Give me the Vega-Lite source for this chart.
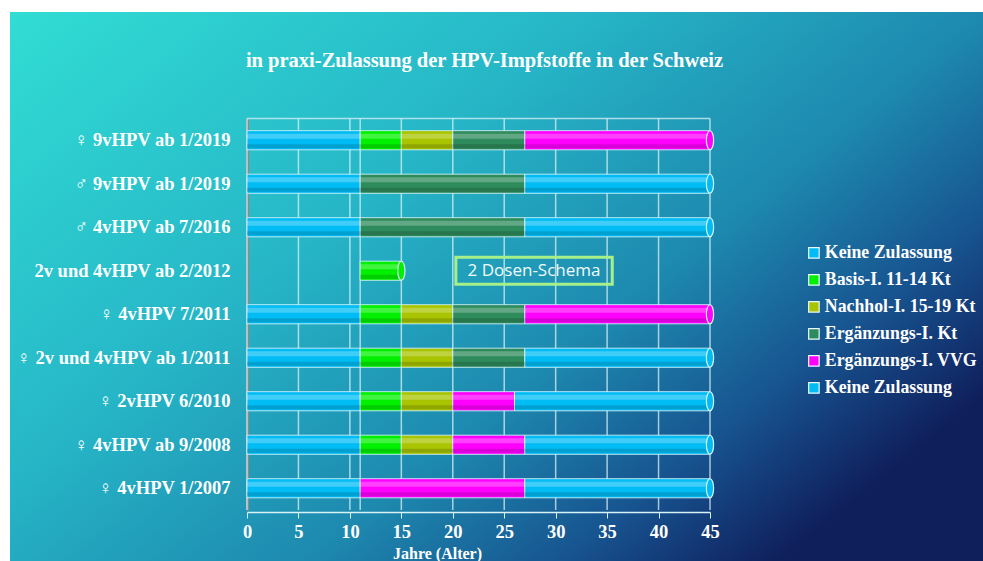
{
  "$schema": "https://vega.github.io/schema/vega-lite/v6.json",
  "width": 973,
  "height": 549,
  "autosize": {"type": "none"},
  "padding": {"left": 10, "top": 12, "right": 0, "bottom": 0},
  "background": "white",
  "view": {
    "stroke": null,
    "fill": {
      "gradient": "linear",
      "x1": 0, "y1": 0, "x2": 1, "y2": 0.7,
      "stops": [
        {"offset": 0, "color": "#31ddd4"},
        {"offset": 0.4, "color": "#26b6c7"},
        {"offset": 0.68, "color": "#1d88ae"},
        {"offset": 0.85, "color": "#175490"},
        {"offset": 1, "color": "#0f1f5c"}
      ]
    }
  },
  "title": {
    "text": "in praxi-Zulassung der HPV-Impfstoffe in der Schweiz",
    "font": "Liberation Serif",
    "fontSize": 20.5,
    "fontWeight": "bold",
    "color": "white",
    "anchor": "middle",
    "frame": "group",
    "baseline": "alphabetic",
    "offset": -75,
    "dx": -12
  },
  "data": {
    "values": [
      {"label": "♀ 9vHPV  ab 1/2019", "series": "Keine Zulassung (unten)", "start": 0, "end": 11},
      {"label": "♀ 9vHPV  ab 1/2019", "series": "Basis-I. 11-14 Kt", "start": 11, "end": 15},
      {"label": "♀ 9vHPV  ab 1/2019", "series": "Nachhol-I. 15-19 Kt", "start": 15, "end": 20},
      {"label": "♀ 9vHPV  ab 1/2019", "series": "Ergänzungs-I. Kt", "start": 20, "end": 27},
      {"label": "♀ 9vHPV  ab 1/2019", "series": "Ergänzungs-I. VVG", "start": 27, "end": 45},
      {"label": "♂ 9vHPV ab 1/2019", "series": "Keine Zulassung (unten)", "start": 0, "end": 11},
      {"label": "♂ 9vHPV ab 1/2019", "series": "Ergänzungs-I. Kt", "start": 11, "end": 27},
      {"label": "♂ 9vHPV ab 1/2019", "series": "Keine Zulassung (oben)", "start": 27, "end": 45},
      {"label": "♂ 4vHPV ab 7/2016", "series": "Keine Zulassung (unten)", "start": 0, "end": 11},
      {"label": "♂ 4vHPV ab 7/2016", "series": "Ergänzungs-I. Kt", "start": 11, "end": 27},
      {"label": "♂ 4vHPV ab 7/2016", "series": "Keine Zulassung (oben)", "start": 27, "end": 45},
      {"label": "2v und 4vHPV ab 2/2012", "series": "Basis-I. 11-14 Kt", "start": 11, "end": 15},
      {"label": "♀ 4vHPV 7/2011", "series": "Keine Zulassung (unten)", "start": 0, "end": 11},
      {"label": "♀ 4vHPV 7/2011", "series": "Basis-I. 11-14 Kt", "start": 11, "end": 15},
      {"label": "♀ 4vHPV 7/2011", "series": "Nachhol-I. 15-19 Kt", "start": 15, "end": 20},
      {"label": "♀ 4vHPV 7/2011", "series": "Ergänzungs-I. Kt", "start": 20, "end": 27},
      {"label": "♀ 4vHPV 7/2011", "series": "Ergänzungs-I. VVG", "start": 27, "end": 45},
      {"label": "♀ 2v und 4vHPV ab 1/2011", "series": "Keine Zulassung (unten)", "start": 0, "end": 11},
      {"label": "♀ 2v und 4vHPV ab 1/2011", "series": "Basis-I. 11-14 Kt", "start": 11, "end": 15},
      {"label": "♀ 2v und 4vHPV ab 1/2011", "series": "Nachhol-I. 15-19 Kt", "start": 15, "end": 20},
      {"label": "♀ 2v und 4vHPV ab 1/2011", "series": "Ergänzungs-I. Kt", "start": 20, "end": 27},
      {"label": "♀ 2v und 4vHPV ab 1/2011", "series": "Keine Zulassung (oben)", "start": 27, "end": 45},
      {"label": "♀ 2vHPV 6/2010", "series": "Keine Zulassung (unten)", "start": 0, "end": 11},
      {"label": "♀ 2vHPV 6/2010", "series": "Basis-I. 11-14 Kt", "start": 11, "end": 15},
      {"label": "♀ 2vHPV 6/2010", "series": "Nachhol-I. 15-19 Kt", "start": 15, "end": 20},
      {"label": "♀ 2vHPV 6/2010", "series": "Ergänzungs-I. VVG", "start": 20, "end": 26},
      {"label": "♀ 2vHPV 6/2010", "series": "Keine Zulassung (oben)", "start": 26, "end": 45},
      {"label": "♀ 4vHPV ab 9/2008", "series": "Keine Zulassung (unten)", "start": 0, "end": 11},
      {"label": "♀ 4vHPV ab 9/2008", "series": "Basis-I. 11-14 Kt", "start": 11, "end": 15},
      {"label": "♀ 4vHPV ab 9/2008", "series": "Nachhol-I. 15-19 Kt", "start": 15, "end": 20},
      {"label": "♀ 4vHPV ab 9/2008", "series": "Ergänzungs-I. VVG", "start": 20, "end": 27},
      {"label": "♀ 4vHPV ab 9/2008", "series": "Keine Zulassung (oben)", "start": 27, "end": 45},
      {"label": "♀ 4vHPV 1/2007", "series": "Keine Zulassung (unten)", "start": 0, "end": 11},
      {"label": "♀ 4vHPV 1/2007", "series": "Ergänzungs-I. VVG", "start": 11, "end": 27},
      {"label": "♀ 4vHPV 1/2007", "series": "Keine Zulassung (oben)", "start": 27, "end": 45}
    ]
  },
  "encoding": {
    "y": {
      "field": "label",
      "type": "nominal",
      "sort": ["♀ 9vHPV  ab 1/2019", "♂ 9vHPV ab 1/2019", "♂ 4vHPV ab 7/2016", "2v und 4vHPV ab 2/2012", "♀ 4vHPV 7/2011", "♀ 2v und 4vHPV ab 1/2011", "♀ 2vHPV 6/2010", "♀ 4vHPV ab 9/2008", "♀ 4vHPV 1/2007"],
      "scale": {"range": [106.5, 498], "paddingInner": 0.56, "paddingOuter": 0.28},
      "axis": {
        "title": null,
        "offset": -237,
        "grid": false,
        "ticks": false,
        "domainColor": "#8a8a8a",
        "domainWidth": 3,
        "labelPadding": 17,
        "labelFont": "Liberation Serif",
        "labelFontSize": 18.5,
        "labelFontWeight": "bold",
        "labelColor": "white",
        "labelLimit": 300
      }
    }
  },
  "layer": [
    {
      "data": {"values": [{"g": 0}, {"g": 5}, {"g": 10}, {"g": 11}, {"g": 15}, {"g": 20}, {"g": 25}, {"g": 30}, {"g": 35}, {"g": 40}, {"g": 45}]},
      "mark": {"type": "rule", "color": "#d8f2f6", "opacity": 0.75, "strokeWidth": 1.5, "yOffset": -21.75, "y2Offset": 21.75},
      "encoding": {
        "x": {"field": "g", "type": "quantitative"},
        "y": {"datum": "♀ 9vHPV  ab 1/2019"},
        "y2": {"datum": "♀ 4vHPV 1/2007"}
      }
    },
    {
      "data": {"values": [{"from": 0, "to": 45}]},
      "mark": {"type": "rule", "color": "#d8f2f6", "opacity": 0.75, "strokeWidth": 1.5, "yOffset": -21.75},
      "encoding": {
        "x": {"field": "from", "type": "quantitative"},
        "x2": {"field": "to"},
        "y": {"datum": "♀ 9vHPV  ab 1/2019"}
      }
    },
    {
      "mark": {"type": "bar", "stroke": "#d6f3fa", "strokeWidth": 1, "strokeOpacity": 0.85},
      "encoding": {
        "x": {
          "field": "start",
          "type": "quantitative",
          "scale": {"domain": [0, 45], "range": [237, 700], "nice": false, "zero": false},
          "axis": {
            "title": "Jahre (Alter)",
            "values": [0, 5, 10, 15, 20, 25, 30, 35, 40, 45],
            "offset": -49,
            "grid": false,
            "domainColor": "#d8f2f6",
            "domainWidth": 1.5,
            "tickColor": "#d8f2f6",
            "tickSize": 6,
            "labelFlush": false,
            "labelOverlap": false,
            "labelPadding": 4,
            "labelFont": "Liberation Serif",
            "labelFontSize": 18.5,
            "labelFontWeight": "bold",
            "labelColor": "white",
            "titleFont": "Liberation Serif",
            "titleFontSize": 16,
            "titleFontWeight": "bold",
            "titleColor": "white",
            "titleX": 427,
            "titleY": 41,
            "titleBaseline": "middle"
          }
        },
        "x2": {"field": "end"},
        "color": {
          "field": "series",
          "type": "nominal",
          "scale": {
            "domain": ["Keine Zulassung (unten)", "Basis-I. 11-14 Kt", "Nachhol-I. 15-19 Kt", "Ergänzungs-I. Kt", "Ergänzungs-I. VVG", "Keine Zulassung (oben)"],
            "range": ["#00bcf5", "#00f000", "#a9c400", "#2e8b5c", "#ff00ff", "#00bcf5"]
          },
          "legend": {
            "orient": "none",
            "legendX": 795,
            "legendY": 232,
            "title": null,
            "symbolType": "square",
            "symbolSize": 110,
            "symbolStrokeColor": "#e8f8ff",
            "symbolStrokeWidth": 1.2,
            "labelFont": "Liberation Serif",
            "labelFontSize": 17.8,
            "labelFontWeight": "bold",
            "labelColor": "white",
            "labelLimit": 400,
            "labelOffset": 2,
            "rowPadding": 8,
            "labelExpr": "(datum.label == 'Keine Zulassung (unten)' || datum.label == 'Keine Zulassung (oben)') ? 'Keine Zulassung' : datum.label"
          }
        }
      }
    },
    {
      "mark": {"type": "bar", "height": 5, "yOffset": -4, "color": "white", "opacity": 0.25},
      "encoding": {
        "x": {"field": "start", "type": "quantitative"},
        "x2": {"field": "end"}
      }
    },
    {
      "mark": {"type": "bar", "height": 4, "yOffset": 6, "color": "black", "opacity": 0.15},
      "encoding": {
        "x": {"field": "start", "type": "quantitative"},
        "x2": {"field": "end"}
      }
    },
    {
      "transform": [{"filter": "datum.end == 45 || datum.label == '2v und 4vHPV ab 2/2012'"}],
      "mark": {
        "type": "point",
        "shape": "M0,-1 A0.38,1 0 1,1 0,1 A0.38,1 0 1,1 0,-1 Z",
        "size": 361,
        "filled": true,
        "opacity": 1,
        "stroke": "#d8f4fa",
        "strokeWidth": 1.2
      },
      "encoding": {
        "x": {"field": "end", "type": "quantitative"},
        "color": {"field": "series", "type": "nominal", "legend": null}
      }
    },
    {
      "data": {"values": [{"label": "2v und 4vHPV ab 2/2012", "from": 20.3, "to": 35.5}]},
      "mark": {"type": "bar", "height": 27, "fill": "#1fa7bf", "fillOpacity": 0, "stroke": "#a6f08a", "strokeWidth": 3},
      "encoding": {
        "x": {"field": "from", "type": "quantitative"},
        "x2": {"field": "to"}
      }
    },
    {
      "data": {"values": [{"label": "2v und 4vHPV ab 2/2012", "mid": 27.9, "note": "2 Dosen-Schema"}]},
      "mark": {"type": "text", "font": "Open Sans", "fontSize": 17, "color": "#f0fbfb", "align": "center", "baseline": "middle"},
      "encoding": {
        "x": {"field": "mid", "type": "quantitative"},
        "text": {"field": "note"}
      }
    }
  ]
}
